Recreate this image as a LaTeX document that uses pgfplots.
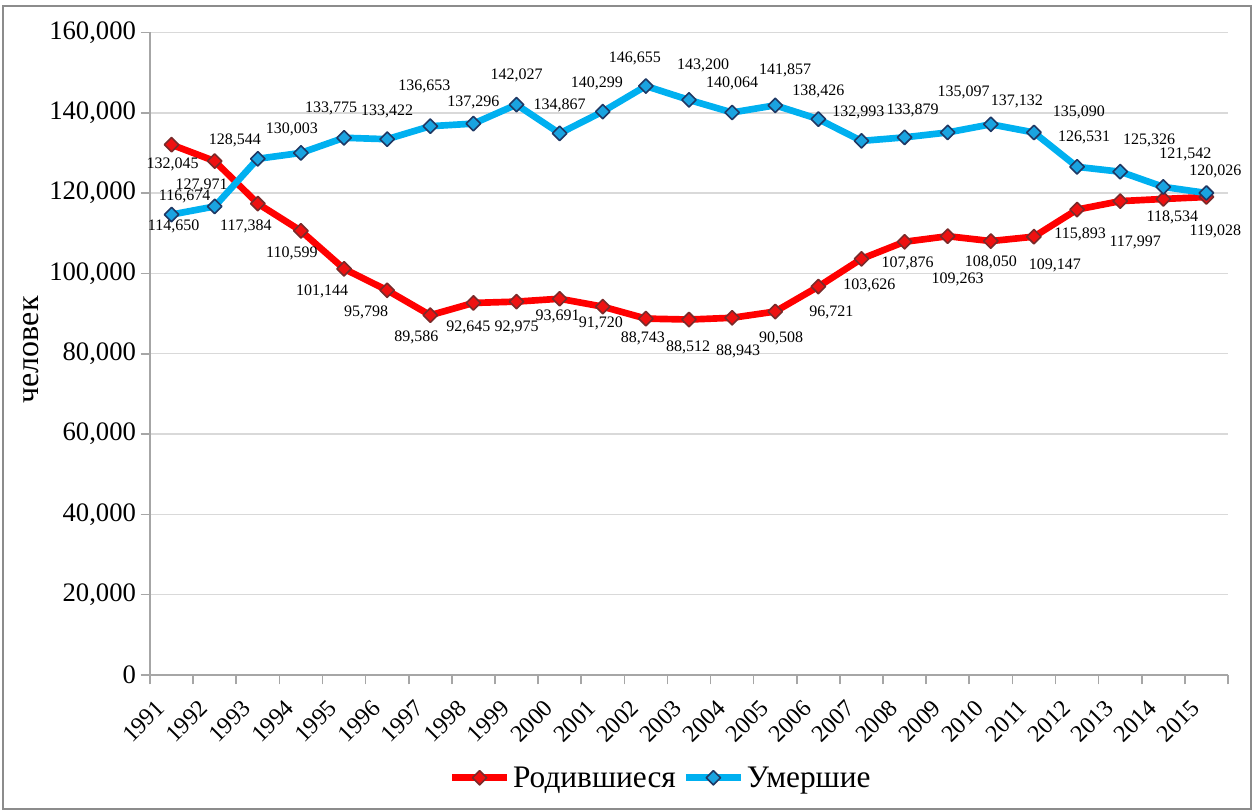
\documentclass[border=0pt]{standalone}
\usepackage{pgfplots}
\pgfplotsset{compat=1.18}
\usepackage{pgfplotstable}
\usepackage{fontspec}
\setmainfont{Liberation Serif}
\definecolor{rline}{HTML}{FF0000}
\definecolor{rfill}{HTML}{EE1111}
\definecolor{rdraw}{HTML}{7A2A2A}
\definecolor{bline}{HTML}{00B0F0}
\definecolor{bfill}{HTML}{1AA3E0}
\definecolor{bdraw}{HTML}{1F3864}
\definecolor{gridc}{HTML}{D9D9D9}
\definecolor{axc}{HTML}{A6A6A6}
\definecolor{framec}{HTML}{8C8C8C}
\pgfplotstableread{
x v dx dy
0 132045 1 20
1 127971 -13 24
2 117384 -12 23
3 110599 -9 23
4 101144 -22 23
5 95798 -21 22
6 89586 -14 22
7 92645 -5 24
8 92975 0 26
9 93691 -2 18
10 91720 -2 17
11 88743 -3 20
12 88512 -1 28
13 88943 6 34
14 90508 6 27
15 96721 13 26
16 103626 8 27
17 107876 3 22
18 109263 10 43
19 108050 0 21
20 109147 21 29
21 115893 3 25
22 117997 15 41
23 118534 9 18
24 119028 9 34
}\born
\pgfplotstableread{
x v dx dy
0 114650 2 12
1 116674 -30 -10
2 128544 -23 -18
3 130003 -9 -24
4 133775 -13 -29
5 133422 0 -28
6 136653 -6 -40
7 137296 0 -21
8 142027 0 -29
9 134867 0 -28
10 140299 -6 -28
11 146655 -11 -28
12 143200 14 -35
13 140064 0 -29
14 141857 10 -35
15 138426 0 -28
16 132993 -3 -28
17 133879 8 -27
18 135097 16 -40
19 137132 26 -23
20 135090 45 -20
21 126531 7 -29
22 125326 29 -31
23 121542 22 -32
24 120026 9 -22
}\died
\pgfplotsset{
  redstyle/.style={color=rline, line width=5pt, line join=round, mark=square*, mark size=3.8pt,
    mark options={rotate=45, fill=rfill, draw=rdraw, line width=1.2pt}},
  bluestyle/.style={color=bline, line width=5pt, line join=round, mark=square*, mark size=3.8pt,
    mark options={rotate=45, fill=bfill, draw=bdraw, line width=1.2pt}},
}
\tikzset{lab/.style={font=\fontsize{12}{14}\selectfont, text=black, anchor=center, inner sep=0pt}}
\newcommand\putlabels[1]{%
  \pgfplotsforeachungrouped \ii in {0,...,24}{%
    \pgfplotstablegetelem{\ii}{v}\of#1\let\vv\pgfplotsretval
    \pgfplotstablegetelem{\ii}{dx}\of#1\let\ddx\pgfplotsretval
    \pgfplotstablegetelem{\ii}{dy}\of#1\let\ddy\pgfplotsretval
    \edef\tmp{\noexpand\node[lab, xshift={(\ddx)*0.75pt}, yshift={-(\ddy)*0.75pt}] at (axis cs:\ii,\vv)
      {\noexpand\pgfmathprintnumber[fixed,precision=0,1000 sep={,},assume math mode=true]{\vv}};}%
    \tmp
  }%
}
\begin{document}
\begin{tikzpicture}
\begin{axis}[
  scale only axis, width=808.5pt, height=481.9pt,
  xmin=-0.5, xmax=24.5, ymin=0, ymax=160000,
  clip=false,
  axis x line=bottom, axis y line=left,
  axis line style={draw=axc, line width=1.2pt, -},
  xtick={-0.5,0.5,...,24.5},
  x tick label as interval,
  xticklabels={1991,1992,1993,1994,1995,1996,1997,1998,1999,2000,2001,2002,2003,2004,2005,2006,2007,2008,2009,2010,2011,2012,2013,2014,2015},
  ytick={0,20000,...,160000},
  scaled y ticks=false,
  tick align=outside,
  major tick length=7pt,
  tick style={draw=axc, line width=1.2pt},
  ymajorgrids, grid style={draw=gridc, line width=1.1pt},
  /pgf/number format/assume math mode=true,
  /pgf/number format/1000 sep={,},
  yticklabel style={font=\fontsize{20}{24}\selectfont, /pgf/number format/fixed},
  xticklabel shift=11pt,
  xticklabel style={font=\fontsize{18}{21}\selectfont, xshift=-7.5pt, yshift=-3pt, rotate=45, anchor=east, inner sep=1pt},
  ylabel={человек},
  ylabel style={font=\fontsize{24}{28}\selectfont, at={(axis description cs:-0.110,0.506)}, anchor=center},
  legend style={at={(axis description cs:0.474,-0.16)}, anchor=center, draw=none, fill=none,
    legend columns=2, font=\fontsize{23.5}{27}\selectfont,
    /tikz/every even column/.append style={column sep=3pt},
    /tikz/every odd column/.append style={column sep=0pt}},
  legend image code/.code={\draw[mark repeat=2,mark phase=2,#1] plot coordinates {(0pt,0pt) (20.6pt,0pt) (41.2pt,0pt)};},
]
\addplot[redstyle] table[x=x, y=v] {\born};
\addlegendentry{Родившиеся}
\putlabels{\born}
\addplot[bluestyle] table[x=x, y=v] {\died};
\addlegendentry{Умершие}
\putlabels{\died}
\end{axis}
\draw[framec, line width=1.5pt] (-110.25pt,-100.5pt) rectangle (825.75pt,501.75pt);
\pgfresetboundingbox
\path[use as bounding box] (-112.5pt,-102.75pt) rectangle (829.5pt,506.25pt);
\end{tikzpicture}
\end{document}
